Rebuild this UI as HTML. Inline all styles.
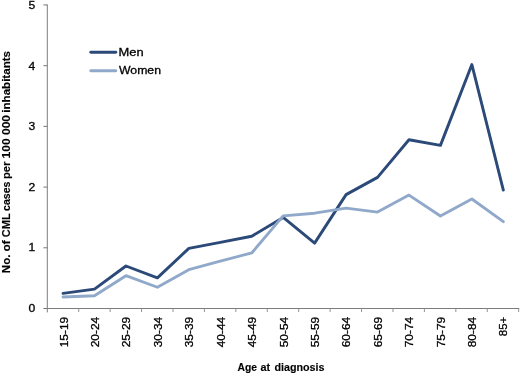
<!DOCTYPE html>
<html><head><meta charset="utf-8"><title>CML incidence by age</title>
<style>
html,body{margin:0;padding:0;background:#fff;}
svg{display:block;}
text{font-family:"Liberation Sans",sans-serif;fill:#000;stroke:#000;stroke-width:0.3px;}
.b{stroke-width:0.15px;}
.b{font-weight:bold;}
</style></head><body>
<svg width="520" height="374" viewBox="0 0 520 374">
<rect width="520" height="374" fill="#fff"/>
<g stroke="#7c7c7c" stroke-width="1" fill="none">
<line x1="47.30" y1="4.45" x2="47.30" y2="312.4"/>
<line x1="47.30" y1="308.50" x2="519.2" y2="308.50"/>
<line x1="43.4" y1="308.50" x2="47.30" y2="308.50" stroke="#787878"/>
<line x1="43.4" y1="247.79" x2="47.30" y2="247.79" stroke="#787878"/>
<line x1="43.4" y1="187.08" x2="47.30" y2="187.08" stroke="#787878"/>
<line x1="43.4" y1="126.37" x2="47.30" y2="126.37" stroke="#787878"/>
<line x1="43.4" y1="65.66" x2="47.30" y2="65.66" stroke="#787878"/>
<line x1="43.4" y1="4.95" x2="47.30" y2="4.95" stroke="#787878"/>
<line x1="78.72" y1="308.50" x2="78.72" y2="312.0" stroke="#939393"/>
<line x1="110.15" y1="308.50" x2="110.15" y2="312.0" stroke="#939393"/>
<line x1="141.57" y1="308.50" x2="141.57" y2="312.0" stroke="#939393"/>
<line x1="173.00" y1="308.50" x2="173.00" y2="312.0" stroke="#939393"/>
<line x1="204.43" y1="308.50" x2="204.43" y2="312.0" stroke="#939393"/>
<line x1="235.85" y1="308.50" x2="235.85" y2="312.0" stroke="#939393"/>
<line x1="267.27" y1="308.50" x2="267.27" y2="312.0" stroke="#939393"/>
<line x1="298.70" y1="308.50" x2="298.70" y2="312.0" stroke="#939393"/>
<line x1="330.12" y1="308.50" x2="330.12" y2="312.0" stroke="#939393"/>
<line x1="361.55" y1="308.50" x2="361.55" y2="312.0" stroke="#939393"/>
<line x1="392.98" y1="308.50" x2="392.98" y2="312.0" stroke="#939393"/>
<line x1="424.40" y1="308.50" x2="424.40" y2="312.0" stroke="#939393"/>
<line x1="455.83" y1="308.50" x2="455.83" y2="312.0" stroke="#939393"/>
<line x1="487.25" y1="308.50" x2="487.25" y2="312.0" stroke="#939393"/>
<line x1="518.67" y1="308.50" x2="518.67" y2="312.0" stroke="#939393"/>
</g>
<polyline points="63.02,293.32 94.47,289.07 125.92,266.00 157.38,277.84 188.82,248.40 220.27,242.33 251.72,236.26 283.18,217.44 314.62,243.12 346.07,194.61 377.52,177.37 408.98,139.73 440.43,145.37 471.88,64.57 503.32,190.12" fill="none" stroke="#2B4A78" stroke-width="2.9" stroke-linejoin="round" stroke-linecap="round"/>
<polyline points="63.02,296.97 94.47,295.75 125.92,275.72 157.38,287.25 188.82,269.65 220.27,261.15 251.72,252.95 283.18,215.92 314.62,213.19 346.07,208.15 377.52,212.09 408.98,195.09 440.43,216.04 471.88,199.04 503.32,221.68" fill="none" stroke="#90A9CA" stroke-width="2.9" stroke-linejoin="round" stroke-linecap="round"/>
<line x1="90.8" y1="52.3" x2="115.8" y2="52.3" stroke="#2B4A78" stroke-width="2.9" stroke-linecap="round"/>
<line x1="90.8" y1="70.7" x2="115.8" y2="70.7" stroke="#90A9CA" stroke-width="2.9" stroke-linecap="round"/>
<g opacity="0.999">
<text x="118.6" y="55.7" font-size="10.8" textLength="25.1" lengthAdjust="spacingAndGlyphs">Men</text>
<text x="119.0" y="74.1" font-size="10.8" textLength="42.0" lengthAdjust="spacingAndGlyphs">Women</text>
<text x="28.55" y="311.65" font-size="10.7" textLength="6.75" lengthAdjust="spacingAndGlyphs">0</text>
<text x="28.55" y="251.39" font-size="10.7" textLength="6.75" lengthAdjust="spacingAndGlyphs">1</text>
<text x="28.55" y="190.73" font-size="10.7" textLength="6.75" lengthAdjust="spacingAndGlyphs">2</text>
<text x="28.55" y="130.37" font-size="10.7" textLength="6.75" lengthAdjust="spacingAndGlyphs">3</text>
<text x="28.55" y="69.61" font-size="10.7" textLength="6.75" lengthAdjust="spacingAndGlyphs">4</text>
<text x="28.55" y="8.95" font-size="10.7" textLength="6.75" lengthAdjust="spacingAndGlyphs">5</text>
<text transform="translate(68.12,316.85) rotate(-90)" font-size="10.7" text-anchor="end" textLength="30.5" lengthAdjust="spacingAndGlyphs">15-19</text>
<text transform="translate(98.88,316.85) rotate(-90)" font-size="10.7" text-anchor="end" textLength="30.5" lengthAdjust="spacingAndGlyphs">20-24</text>
<text transform="translate(130.32,316.85) rotate(-90)" font-size="10.7" text-anchor="end" textLength="30.5" lengthAdjust="spacingAndGlyphs">25-29</text>
<text transform="translate(161.78,316.85) rotate(-90)" font-size="10.7" text-anchor="end" textLength="30.5" lengthAdjust="spacingAndGlyphs">30-34</text>
<text transform="translate(193.22,316.85) rotate(-90)" font-size="10.7" text-anchor="end" textLength="30.5" lengthAdjust="spacingAndGlyphs">35-39</text>
<text transform="translate(224.67,316.85) rotate(-90)" font-size="10.7" text-anchor="end" textLength="30.5" lengthAdjust="spacingAndGlyphs">40-44</text>
<text transform="translate(256.12,316.85) rotate(-90)" font-size="10.7" text-anchor="end" textLength="30.5" lengthAdjust="spacingAndGlyphs">45-49</text>
<text transform="translate(287.57,316.85) rotate(-90)" font-size="10.7" text-anchor="end" textLength="30.5" lengthAdjust="spacingAndGlyphs">50-54</text>
<text transform="translate(319.02,316.85) rotate(-90)" font-size="10.7" text-anchor="end" textLength="30.5" lengthAdjust="spacingAndGlyphs">55-59</text>
<text transform="translate(350.47,316.85) rotate(-90)" font-size="10.7" text-anchor="end" textLength="30.5" lengthAdjust="spacingAndGlyphs">60-64</text>
<text transform="translate(381.92,316.85) rotate(-90)" font-size="10.7" text-anchor="end" textLength="30.5" lengthAdjust="spacingAndGlyphs">65-69</text>
<text transform="translate(413.38,316.85) rotate(-90)" font-size="10.7" text-anchor="end" textLength="30.5" lengthAdjust="spacingAndGlyphs">70-74</text>
<text transform="translate(444.82,316.85) rotate(-90)" font-size="10.7" text-anchor="end" textLength="30.5" lengthAdjust="spacingAndGlyphs">75-79</text>
<text transform="translate(476.27,316.85) rotate(-90)" font-size="10.7" text-anchor="end" textLength="30.5" lengthAdjust="spacingAndGlyphs">80-84</text>
<text transform="translate(507.02,316.85) rotate(-90)" font-size="10.7" text-anchor="end" textLength="19.3" lengthAdjust="spacingAndGlyphs">85+</text>
<text class="b" transform="translate(9.8,0) rotate(-90)" font-size="11"><tspan x="-273.20" textLength="18.60" lengthAdjust="spacingAndGlyphs">No.</tspan> <tspan x="-251.40" textLength="11.10" lengthAdjust="spacingAndGlyphs">of</tspan> <tspan x="-237.15" textLength="23.55" lengthAdjust="spacingAndGlyphs">CML</tspan> <tspan x="-211.00" textLength="29.50" lengthAdjust="spacingAndGlyphs">cases</tspan> <tspan x="-179.00" textLength="17.40" lengthAdjust="spacingAndGlyphs">per</tspan> <tspan x="-158.40" textLength="20.20" lengthAdjust="spacingAndGlyphs">100</tspan> <tspan x="-135.00" textLength="20.00" lengthAdjust="spacingAndGlyphs">000</tspan> <tspan x="-112.70" textLength="61.70" lengthAdjust="spacingAndGlyphs">inhabitants</tspan></text>
<text class="b" y="370.8" font-size="11"><tspan x="237.54" textLength="19.43" lengthAdjust="spacingAndGlyphs">Age</tspan> <tspan x="260.55" textLength="9.65" lengthAdjust="spacingAndGlyphs">at</tspan> <tspan x="274.45" textLength="50.09" lengthAdjust="spacingAndGlyphs">diagnosis</tspan></text>
</g>
</svg></body></html>
